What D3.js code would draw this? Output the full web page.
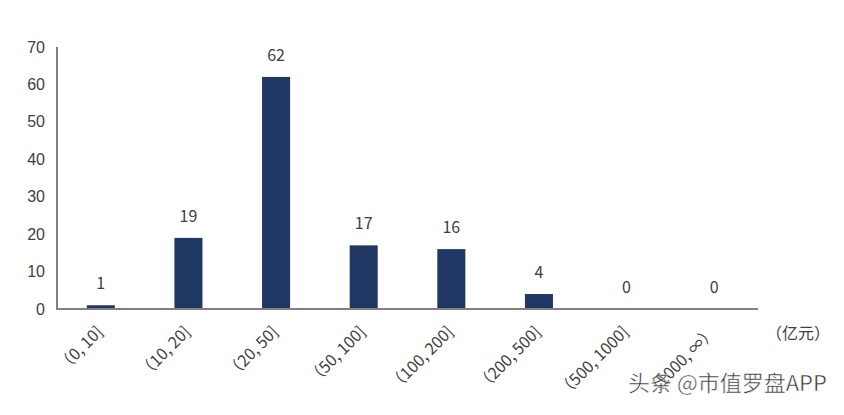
<!DOCTYPE html>
<html><head><meta charset="utf-8">
<script src="https://cdn.jsdelivr.net/npm/d3@7"></script>
<style>body{margin:0;background:#fff;}</style>
</head><body>
<svg id="c" width="844" height="415"></svg>
<script>
const categories = ["（0, 10]", "（10, 20]", "（20, 50]", "（50, 100]", "（100, 200]", "（200, 500]", "（500, 1000]", "（1000, ∞）"];
const values = [1, 19, 62, 17, 16, 4, 0, 0];
const yTicks = [0, 10, 20, 30, 40, 50, 60, 70];
const unitLabel = "（亿元）";
const watermark = "头条 @市值罗盘APP";

const svg = d3.select("#c");
const m = {left: 57, right: 86, top: 47, bottom: 106};
const W = 844, H = 415;
const x = d3.scaleBand().domain(categories).range([m.left, W - m.right]).paddingInner(0.68).paddingOuter(0.34);
const y = d3.scaleLinear().domain([0, 70]).range([H - m.bottom, m.top]);

// y tick labels
svg.append("g").selectAll("text").data(yTicks).join("text")
  .attr("x", 45).attr("y", d => y(d)).attr("dy", "0.35em")
  .attr("text-anchor", "end")
  .attr("font-family", "Liberation Sans, Arial, sans-serif").attr("font-size", 16)
  .attr("fill", "#404040").text(d => d);

// bars
svg.append("g").selectAll("rect").data(values).join("rect")
  .attr("x", (d, i) => x(categories[i])).attr("width", x.bandwidth())
  .attr("y", d => y(d)).attr("height", d => y(0) - y(d))
  .attr("fill", "#213763");

// axes lines
svg.append("line").attr("x1", m.left).attr("x2", m.left).attr("y1", y(70)).attr("y2", y(0) + 1)
  .attr("stroke", "#808080").attr("stroke-width", 2);
svg.append("line").attr("x1", m.left - 1).attr("x2", W - m.right).attr("y1", y(0)).attr("y2", y(0))
  .attr("stroke", "#808080").attr("stroke-width", 2);

// value labels
svg.append("g").selectAll("text").data(values).join("text")
  .attr("x", (d, i) => x(categories[i]) + x.bandwidth() / 2)
  .attr("y", d => y(d) - 16)
  .attr("text-anchor", "middle")
  .attr("font-family", "Noto Sans CJK SC, Noto Sans, sans-serif").attr("font-size", 16)
  .attr("fill", "#404040").text(d => d);

// category labels
svg.append("g").selectAll("text").data(categories).join("text")
  .attr("transform", d => `translate(${x(d) + x.bandwidth() / 2 + 3},${y(0) + 24}) rotate(-45)`)
  .attr("text-anchor", "end")
  .attr("font-family", "Noto Sans CJK SC, sans-serif").attr("font-size", 16)
  .attr("fill", "#404040").text(d => d);

svg.append("text").attr("x", 766).attr("y", 339)
  .attr("font-family", "Noto Sans CJK SC, sans-serif").attr("font-size", 16)
  .attr("fill", "#404040").text(unitLabel);

svg.append("text").attr("x", 628).attr("y", 391)
  .attr("font-family", "Noto Sans CJK SC, sans-serif").attr("font-size", 22)
  .attr("fill", "#333").attr("stroke", "#fff").attr("stroke-width", 0.5).text(watermark);
</script>
</body></html>
